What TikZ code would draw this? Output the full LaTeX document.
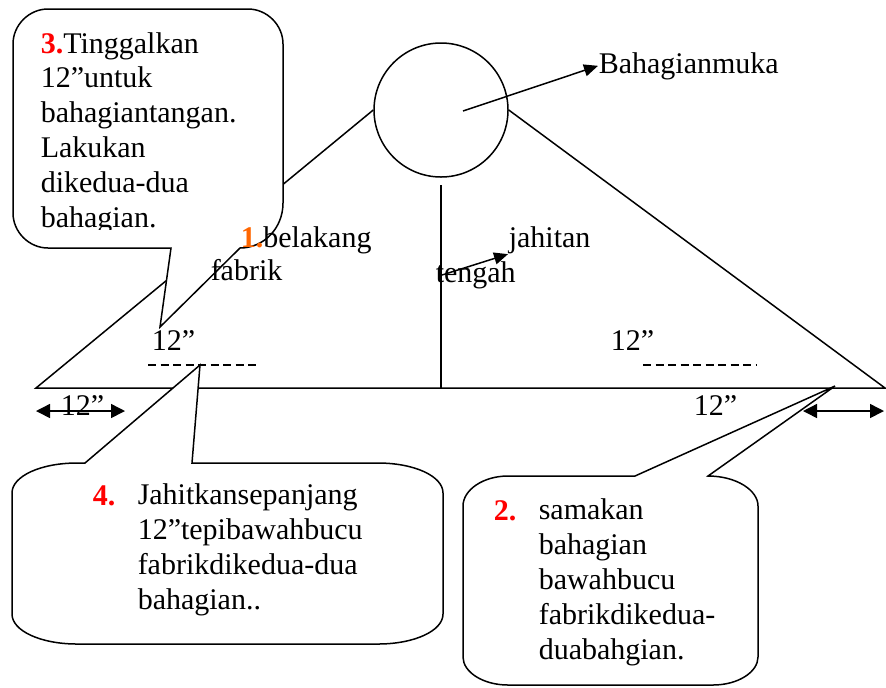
\documentclass[tikz,border=0pt]{standalone}
\usepackage{fontspec}
\setmainfont{Liberation Serif}
\usetikzlibrary{arrows.meta}
\definecolor{fold}{RGB}{255,102,0}

\begin{document}
\begin{tikzpicture}[x = 0.5pt, y = -0.5pt, line width = 0.75pt,
                    txt/.style = {anchor = base west, inner sep = 0pt, align = left,
                                  font = \fontsize{15}{17.4}\selectfont},
                    num/.style = {txt, text = red, font = \fontsize{15}{17.4}\selectfont\bfseries},
                    bubble/.style = {draw, fill = white},
                    dim/.style = {{Triangle[length = 7pt, width = 7pt]}-{Triangle[length = 7pt, width = 7pt]}},
                    pointer/.style = {-{Triangle[length = 7pt, width = 6pt]}},
                    seam/.style = {dash pattern = on 4pt off 2.25pt, line width = 0.6pt}]
      \useasboundingbox (0, 0) rectangle (886, 687);
      \node [circle, draw, minimum size = 67pt, inner sep = 0pt] (face) at (441, 110){};
      \coordinate (bl) at (36, 388);
      \coordinate (br) at (885, 388);
      \coordinate (bm) at (441, 388);
      \coordinate (vt) at (441, 185);
      \draw (face.west) -- (bl) -- (br) -- (face.east);
      \draw (vt) -- (bm);
      \coordinate (s1) at (148, 365);
      \coordinate (s2) at (260, 365);
      \coordinate (s3) at (643, 365);
      \coordinate (s4) at (757, 365);
      \draw [seam] (s1) -- (s2);
      \draw [seam] (s3) -- (s4);
      \coordinate (d1) at (36, 411);
      \coordinate (d2) at (125, 411);
      \coordinate (d3) at (803, 411);
      \coordinate (d4) at (884, 411);
      \draw [dim] (d1) -- (d2);
      \draw [dim] (d3) -- (d4);
      \draw [bubble] (48, 9) -- (248, 9) .. controls (267, 9) and (283, 25) .. (283, 44) -- (283, 203)
            .. controls (283, 228) and (264, 248) .. (240, 248) -- (160, 327) -- (171, 248) -- (48, 248)
            .. controls (29, 248) and (13, 232) .. (13, 213) -- (13, 44) .. controls (13, 25) and (29, 9) .. (48, 9) -- cycle;
      \draw [bubble] (77, 463) -- (85, 463) -- (200, 365) -- (192, 463) -- (378, 463)
            .. controls (414, 463) and (443, 476) .. (443, 493) -- (443, 614) .. controls (443, 631) and (414, 644) .. (378, 644)
            -- (77, 644) .. controls (41, 644) and (12, 631) .. (12, 614) -- (12, 493) .. controls (12, 476) and (41, 463) .. (77, 463) -- cycle;
      \draw [bubble] (508, 476) -- (635, 476) -- (835, 386) -- (708, 476)
            .. controls (736, 476) and (758, 490) .. (758, 506) -- (758, 657) .. controls (758, 672) and (738, 685) .. (713, 685)
            -- (508, 685) .. controls (483, 685) and (463, 672) .. (463, 657) -- (463, 506) .. controls (463, 490) and (483, 476) .. (508, 476) -- cycle;
      \begin{scope}
        \clip (13, 9) rectangle (283, 229);
        \node [txt] (t3) at (40, 227){\textcolor{red}{\bfseries 3.}Tinggalkan\\12”untuk\\bahagiantangan.\\Lakukan\\dikedua-dua\\bahagian.};
      \end{scope}
      \node [num] (n4) at (92, 505){4.};
      \node [txt] (t4) at (137, 609){Jahitkansepanjang\\12”tepibawahbucu\\fabrikdikedua-dua\\bahagian..};
      \node [num] (n2) at (493, 520){2.};
      \node [txt] (t2) at (538, 659){samakan\\bahagian\\bawahbucu\\fabrikdikedua-\\duabahgian.};
      \node [txt] (back) at (240, 247){\textcolor{fold}{\bfseries 1.}belakang};
      \node [txt] (fabric) at (210, 280){fabrik};
      \node [txt] (jahit) at (508, 247){jahitan};
      \node [txt] (tengah) at (435, 282){tengah};
      \node [txt] (muka) at (598, 73){Bahagianmuka};
      \node [txt] (m1) at (151, 350){12”};
      \node [txt] (m2) at (60, 415){12”};
      \node [txt] (m3) at (610, 350){12”};
      \node [txt] (m4) at (693, 415){12”};
      \coordinate (mk) at (463, 111);
      \coordinate (jt) at (442, 275);
      \draw [pointer] (mk) -- (muka.west);
      \draw [pointer] (jt) -- (jahit.south west);
    \end{tikzpicture}
\end{document}
